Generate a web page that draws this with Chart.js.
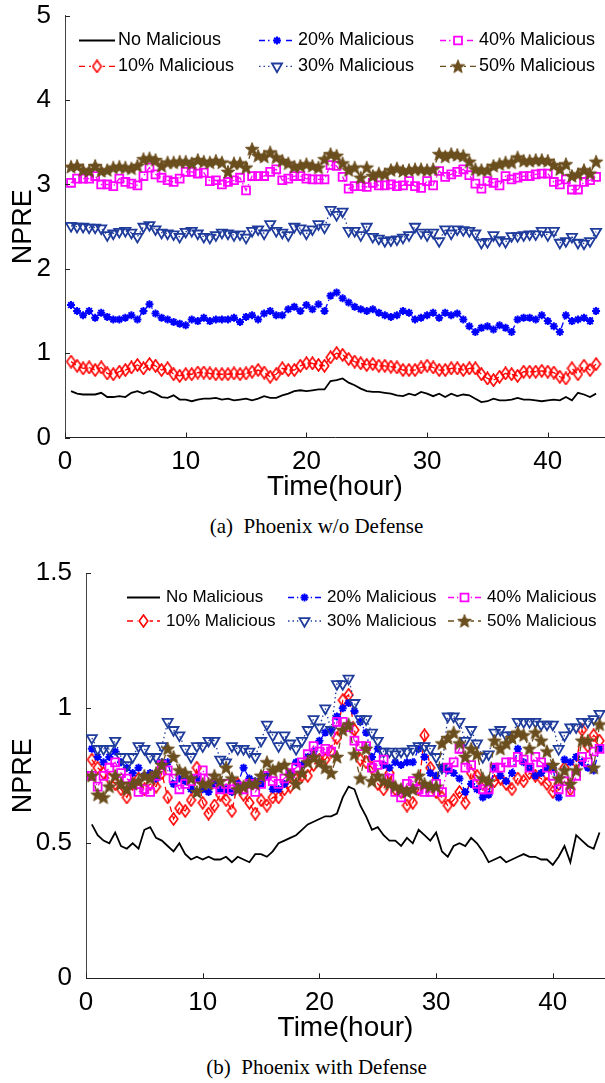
<!DOCTYPE html>
<html lang="en">
<head>
<meta charset="UTF-8">
<title>NPRE over time - Phoenix</title>
<script src="https://cdn.jsdelivr.net/npm/chart.js"></script>
<style>
  html, body { margin: 0; padding: 0; background: #fff; width: 605px; height: 1083px; overflow: hidden; }
  canvas { position: absolute; left: 0; }
  #topChart { top: 0; }
  #botChart { top: 545px; }
  .caption { position: absolute; left: 14px; width: 605px; text-align: center;
             font-family: "Liberation Serif", "DejaVu Serif", serif; font-size: 21px; color: #000; }
</style>
</head>
<body>
<canvas id="topChart" width="605" height="504"></canvas>
<div class="caption" style="top:514px;">(a)&nbsp; Phoenix w/o Defense</div>
<canvas id="botChart" width="605" height="500"></canvas>
<div class="caption" style="top:1055px;">(b)&nbsp; Phoenix with Defense</div>

<script>
  // time axis (hours), one sample every half hour
  const hours = [
    0.5,1,1.5,2,2.5,3,3.5,4,4.5,5,
    5.5,6,6.5,7,7.5,8,8.5,9,9.5,10,
    10.5,11,11.5,12,12.5,13,13.5,14,14.5,15,
    15.5,16,16.5,17,17.5,18,18.5,19,19.5,20,
    20.5,21,21.5,22,22.5,23,23.5,24,24.5,25,
    25.5,26,26.5,27,27.5,28,28.5,29,29.5,30,
    30.5,31,31.5,32,32.5,33,33.5,34,34.5,35,
    35.5,36,36.5,37,37.5,38,38.5,39,39.5,40,
    40.5,41,41.5,42,42.5,43,43.5,44
  ];
  const seriesLabels = ['No Malicious', '10% Malicious', '20% Malicious', '30% Malicious', '40% Malicious', '50% Malicious'];
  const xTicks = [0, 10, 20, 30, 40];
  const topYTicks = [0, 1, 2, 3, 4, 5];
  const botYTicks = [0, 0.5, 1, 1.5];

  // (a) Phoenix w/o Defense
  const topNone = [
    0.55,0.52,0.51,0.51,0.51,0.53,0.48,0.48,0.49,0.48,
    0.53,0.55,0.52,0.55,0.52,0.48,0.47,0.50,0.45,0.45,
    0.43,0.45,0.46,0.46,0.47,0.45,0.46,0.44,0.45,0.46,
    0.44,0.46,0.49,0.47,0.47,0.50,0.52,0.55,0.56,0.55,
    0.56,0.57,0.57,0.67,0.68,0.70,0.65,0.62,0.58,0.55,
    0.54,0.54,0.53,0.52,0.50,0.49,0.52,0.50,0.54,0.52,
    0.49,0.52,0.48,0.52,0.49,0.51,0.50,0.46,0.42,0.43,
    0.46,0.44,0.44,0.45,0.47,0.45,0.45,0.44,0.43,0.44,
    0.45,0.44,0.48,0.44,0.53,0.51,0.48,0.52
  ];
  const top10 = [
    0.90,0.85,0.82,0.83,0.80,0.83,0.76,0.75,0.78,0.80,
    0.83,0.86,0.82,0.87,0.85,0.80,0.82,0.75,0.73,0.75,
    0.75,0.77,0.77,0.76,0.75,0.75,0.75,0.76,0.75,0.76,
    0.78,0.80,0.77,0.72,0.75,0.82,0.80,0.80,0.85,0.88,
    0.88,0.86,0.85,0.95,1.00,0.98,0.93,0.90,0.88,0.86,
    0.87,0.85,0.85,0.84,0.83,0.80,0.80,0.80,0.83,0.85,
    0.83,0.80,0.80,0.82,0.82,0.80,0.82,0.82,0.75,0.70,
    0.68,0.72,0.76,0.75,0.73,0.78,0.78,0.78,0.79,0.78,
    0.77,0.72,0.70,0.82,0.75,0.85,0.80,0.87
  ];
  const top20 = [
    1.57,1.50,1.45,1.50,1.42,1.48,1.43,1.40,1.40,1.42,
    1.45,1.40,1.50,1.58,1.47,1.42,1.40,1.37,1.35,1.33,
    1.40,1.38,1.42,1.38,1.40,1.40,1.40,1.42,1.37,1.43,
    1.45,1.40,1.47,1.50,1.45,1.45,1.52,1.55,1.50,1.57,
    1.52,1.58,1.50,1.68,1.72,1.65,1.60,1.55,1.52,1.50,
    1.52,1.48,1.45,1.43,1.45,1.50,1.48,1.40,1.42,1.45,
    1.48,1.42,1.48,1.45,1.47,1.40,1.32,1.25,1.30,1.32,
    1.28,1.33,1.30,1.25,1.40,1.42,1.42,1.40,1.45,1.38,
    1.32,1.25,1.45,1.38,1.40,1.42,1.38,1.50
  ];
  const top30 = [
    2.51,2.50,2.50,2.49,2.49,2.48,2.40,2.42,2.44,2.45,
    2.43,2.38,2.50,2.52,2.47,2.43,2.42,2.41,2.38,2.44,
    2.45,2.42,2.38,2.37,2.40,2.43,2.42,2.40,2.41,2.37,
    2.45,2.47,2.42,2.53,2.45,2.43,2.40,2.50,2.48,2.42,
    2.47,2.53,2.49,2.70,2.64,2.68,2.45,2.45,2.40,2.50,
    2.38,2.36,2.33,2.34,2.35,2.37,2.40,2.50,2.43,2.40,
    2.43,2.33,2.47,2.42,2.47,2.46,2.45,2.42,2.31,2.32,
    2.40,2.34,2.32,2.39,2.39,2.40,2.41,2.41,2.45,2.40,
    2.45,2.31,2.33,2.38,2.31,2.30,2.33,2.44
  ];
  const top40 = [
    3.02,3.07,3.07,3.07,3.10,3.00,3.00,2.98,3.07,3.03,
    3.01,2.99,3.10,3.20,3.12,3.08,3.05,3.03,3.07,3.15,
    3.15,3.13,3.14,3.04,3.05,3.00,3.03,3.05,3.08,2.93,
    3.10,3.10,3.10,3.15,3.18,3.05,3.07,3.10,3.10,3.07,
    3.06,3.06,3.06,3.23,3.22,3.09,2.95,2.98,2.98,2.97,
    3.02,2.99,2.99,3.00,2.98,2.99,3.04,2.98,2.96,3.04,
    2.99,3.16,3.09,3.12,3.15,3.18,3.11,3.01,2.95,3.04,
    3.02,2.99,3.10,3.06,3.08,3.10,3.10,3.12,3.13,3.13,
    3.03,3.00,3.06,2.94,2.94,3.03,3.05,3.09
  ];
  const top50 = [
    3.21,3.22,3.17,3.16,3.22,3.16,3.17,3.20,3.21,3.20,
    3.19,3.22,3.30,3.31,3.29,3.22,3.26,3.26,3.27,3.27,
    3.25,3.29,3.27,3.26,3.28,3.26,3.15,3.25,3.25,3.20,
    3.42,3.34,3.33,3.38,3.32,3.28,3.25,3.21,3.22,3.24,
    3.22,3.20,3.30,3.36,3.34,3.25,3.17,3.20,3.08,3.20,
    3.10,3.13,3.12,3.17,3.19,3.16,3.17,3.18,3.18,3.17,
    3.18,3.36,3.33,3.36,3.35,3.34,3.27,3.18,3.17,3.17,
    3.22,3.24,3.26,3.26,3.32,3.28,3.28,3.29,3.29,3.28,
    3.23,3.18,3.24,3.10,3.12,3.17,3.13,3.27
  ];

  // (b) Phoenix with Defense
  const botNone = [
    0.57,0.53,0.51,0.50,0.54,0.49,0.48,0.50,0.48,0.55,
    0.56,0.52,0.51,0.49,0.47,0.50,0.46,0.44,0.45,0.44,
    0.45,0.44,0.44,0.45,0.43,0.45,0.44,0.43,0.46,0.46,
    0.45,0.47,0.50,0.51,0.52,0.53,0.55,0.57,0.58,0.59,
    0.60,0.60,0.61,0.67,0.71,0.70,0.64,0.60,0.55,0.56,
    0.53,0.51,0.51,0.49,0.52,0.50,0.55,0.53,0.51,0.54,
    0.47,0.45,0.49,0.50,0.49,0.52,0.50,0.47,0.43,0.44,
    0.45,0.43,0.44,0.45,0.46,0.45,0.45,0.44,0.44,0.42,
    0.45,0.49,0.43,0.53,0.51,0.49,0.48,0.54
  ];
  const bot10 = [
    0.81,0.78,0.76,0.74,0.72,0.70,0.67,0.72,0.74,0.70,
    0.72,0.71,0.76,0.67,0.59,0.63,0.62,0.66,0.78,0.65,
    0.61,0.64,0.68,0.66,0.62,0.72,0.68,0.65,0.61,0.66,
    0.64,0.67,0.67,0.70,0.71,0.74,0.75,0.75,0.79,0.81,
    0.81,0.84,0.89,1.03,1.05,0.92,0.81,0.80,0.78,0.72,
    0.70,0.76,0.70,0.69,0.64,0.65,0.70,0.90,0.78,0.69,
    0.67,0.64,0.66,0.69,0.65,0.76,0.75,0.72,0.70,0.73,
    0.74,0.72,0.70,0.74,0.73,0.76,0.75,0.74,0.72,0.69,
    0.72,0.78,0.70,0.80,0.92,0.86,0.90,0.88
  ];
  const bot20 = [
    0.85,0.82,0.80,0.82,0.84,0.80,0.78,0.76,0.78,0.75,
    0.76,0.74,0.80,0.80,0.72,0.74,0.73,0.70,0.74,0.70,
    0.69,0.72,0.70,0.70,0.69,0.72,0.78,0.74,0.73,0.72,
    0.75,0.70,0.70,0.72,0.76,0.80,0.79,0.82,0.84,0.88,
    0.91,0.92,0.97,1.00,1.02,0.99,0.95,0.91,0.82,0.85,
    0.79,0.78,0.80,0.79,0.80,0.80,0.85,0.82,0.76,0.75,
    0.78,0.77,0.76,0.74,0.69,0.72,0.70,0.67,0.68,0.78,
    0.75,0.73,0.76,0.85,0.80,0.78,0.75,0.76,0.78,0.78,
    0.67,0.81,0.80,0.82,0.80,0.78,0.77,0.85
  ];
  const bot30 = [
    0.89,0.85,0.85,0.85,0.88,0.82,0.79,0.82,0.86,0.85,
    0.82,0.82,0.86,0.95,0.92,0.90,0.85,0.82,0.86,0.86,
    0.88,0.88,0.81,0.80,0.86,0.85,0.85,0.84,0.82,0.88,
    0.94,0.90,0.86,0.90,0.87,0.85,0.88,0.92,0.96,0.93,
    1.00,0.92,1.09,1.09,1.11,1.02,0.96,0.96,0.91,0.88,
    0.84,0.84,0.83,0.84,0.84,0.85,0.86,0.86,0.85,0.82,
    0.78,0.97,0.97,0.95,0.88,0.92,0.87,0.82,0.83,0.91,
    0.92,0.90,0.90,0.95,0.95,0.95,0.95,0.94,0.94,0.94,
    0.85,0.90,0.93,0.93,0.95,0.95,0.96,0.98
  ];
  const bot40 = [
    0.75,0.71,0.75,0.78,0.80,0.76,0.74,0.72,0.69,0.70,
    0.69,0.75,0.79,0.77,0.74,0.70,0.72,0.73,0.74,0.77,
    0.74,0.72,0.70,0.72,0.70,0.71,0.70,0.72,0.69,0.72,
    0.75,0.73,0.72,0.74,0.76,0.78,0.80,0.83,0.86,0.84,
    0.85,0.84,0.95,0.95,0.93,0.88,0.86,0.86,0.78,0.79,
    0.81,0.74,0.69,0.67,0.72,0.73,0.70,0.69,0.69,0.72,
    0.69,0.78,0.80,0.85,0.78,0.79,0.72,0.70,0.70,0.78,
    0.78,0.80,0.80,0.82,0.81,0.78,0.82,0.80,0.78,0.75,
    0.70,0.73,0.69,0.75,0.82,0.80,0.84,0.85
  ];
  const bot50 = [
    0.75,0.68,0.67,0.71,0.75,0.72,0.70,0.72,0.73,0.75,
    0.74,0.76,0.79,0.85,0.82,0.77,0.76,0.74,0.69,0.72,
    0.72,0.75,0.73,0.78,0.74,0.70,0.71,0.72,0.72,0.75,
    0.80,0.77,0.78,0.79,0.75,0.72,0.76,0.80,0.82,0.80,
    0.78,0.76,0.82,0.92,0.94,0.83,0.74,0.85,0.73,0.75,
    0.73,0.72,0.71,0.70,0.69,0.70,0.75,0.72,0.71,0.71,
    0.87,0.89,0.91,0.87,0.82,0.85,0.83,0.74,0.73,0.88,
    0.85,0.87,0.89,0.91,0.90,0.85,0.91,0.88,0.84,0.79,
    0.74,0.77,0.72,0.77,0.88,0.88,0.78,0.94
  ];

  Chart.defaults.font.family = '"Liberation Sans", Arial, sans-serif';
  Chart.defaults.color = '#000';

  // hollow tall diamond (MATLAB 'd')
  function makeDiamond(color) {
    const c = document.createElement('canvas');
    c.width = 11; c.height = 14;
    const g = c.getContext('2d');
    g.strokeStyle = color; g.lineWidth = 1.6;
    g.beginPath();
    g.moveTo(5.5, 1); g.lineTo(9.8, 7); g.lineTo(5.5, 13); g.lineTo(1.2, 7);
    g.closePath(); g.stroke();
    return c;
  }
  // filled five-point star (MATLAB 'p')
  function makePentagram(color, R) {
    const s = Math.ceil(2 * R + 2);
    const c = document.createElement('canvas');
    c.width = s; c.height = s;
    const g = c.getContext('2d');
    g.fillStyle = color; g.strokeStyle = color; g.lineWidth = 1;
    g.beginPath();
    for (let k = 0; k < 10; k++) {
      const a = -Math.PI / 2 + k * Math.PI / 5;
      const r = k % 2 ? R * 0.42 : R;
      const px = s / 2 + r * Math.cos(a), py = s / 2 + 0.5 + r * Math.sin(a);
      k === 0 ? g.moveTo(px, py) : g.lineTo(px, py);
    }
    g.closePath(); g.fill(); g.stroke();
    return c;
  }

  const colors = ['#000000', '#ff0000', '#0000ff', '#1f3c9c', '#ff00ff', '#6b4e1e'];
  const dashes = [[], [6, 4], [6, 3, 1.5, 3], [1.5, 3], [6, 3, 1.5, 3], [6, 4]];
  const diamond = makeDiamond('#ff0000');
  const pentagram = makePentagram('#6b4e1e', 7);
  const marker = [
    { style: 'circle', radius: 0, width: 0, rot: 0 },
    { style: diamond, radius: 5, width: 1.6, rot: 0 },
    { style: 'star', radius: 4, width: 2, rot: 0 },
    { style: 'triangle', radius: 5.8, width: 1.8, rot: 180 },
    { style: 'rect', radius: 5.6, width: 1.8, rot: 0 },
    { style: pentagram, radius: 7, width: 1, rot: 0 }
  ];

  function buildDatasets(series) {
    return series.map((vals, i) => ({
      label: seriesLabels[i],
      data: hours.map((h, k) => ({ x: h, y: vals[k] })),
      borderColor: colors[i],
      borderWidth: i === 0 ? 1.8 : 1.3,
      borderDash: dashes[i],
      pointStyle: marker[i].style,
      pointRadius: marker[i].radius,
      pointBorderWidth: marker[i].width,
      pointRotation: marker[i].rot,
      pointBorderColor: colors[i],
      pointBackgroundColor: 'rgba(0,0,0,0)',
      tension: 0,
      fill: false,
      order: 5 - i
    }));
  }

  // MATLAB style ticks pointing into the plot
  const inwardTicks = {
    id: 'inwardTicks',
    afterDatasetsDraw(chart) {
      const { ctx, chartArea, scales } = chart;
      ctx.save();
      ctx.strokeStyle = '#222';
      ctx.lineWidth = 1;
      scales.x.ticks.forEach(t => {
        const px = Math.round(scales.x.getPixelForValue(t.value)) + 0.5;
        ctx.beginPath(); ctx.moveTo(px, chartArea.bottom); ctx.lineTo(px, chartArea.bottom - 5); ctx.stroke();
      });
      scales.y.ticks.forEach(t => {
        const py = Math.round(scales.y.getPixelForValue(t.value)) + 0.5;
        ctx.beginPath(); ctx.moveTo(chartArea.left, py); ctx.lineTo(chartArea.left + 5, py); ctx.stroke();
      });
      ctx.restore();
    }
  };

  // 3 column legend, filled column by column
  const matlabLegend = {
    id: 'matlabLegend',
    afterDraw(chart, args, opts) {
      const ctx = chart.ctx;
      ctx.save();
      ctx.font = opts.fontSize + 'px "Liberation Sans", Arial, sans-serif';
      ctx.textBaseline = 'middle';
      chart.data.datasets.forEach((ds, i) => {
        const x0 = opts.colX[Math.floor(i / 2)], y = opts.rowY[i % 2];
        const x1 = x0 + opts.lineLen;
        ctx.save();
        ctx.strokeStyle = ds.borderColor;
        ctx.lineWidth = ds.borderWidth;
        ctx.setLineDash(ds.borderDash);
        ctx.beginPath(); ctx.moveTo(x0, y); ctx.lineTo(x1, y); ctx.stroke();
        ctx.setLineDash([]);
        if (ds.pointRadius > 0) {
          ctx.fillStyle = '#fff';
          ctx.fillRect((x0 + x1) / 2 - 6, y - 7, 12, 14);
          ctx.strokeStyle = ds.pointBorderColor;
          ctx.fillStyle = 'rgba(0,0,0,0)';
          ctx.lineWidth = ds.pointBorderWidth;
          Chart.helpers.drawPoint(ctx, { pointStyle: ds.pointStyle, rotation: ds.pointRotation, radius: ds.pointRadius, borderWidth: ds.pointBorderWidth }, (x0 + x1) / 2, y);
        }
        ctx.restore();
        ctx.fillStyle = '#000';
        ctx.fillText(ds.label, x1 + opts.gap, y);
      });
      ctx.restore();
    }
  };

  function makeChart(id, series, cfg) {
    return new Chart(document.getElementById(id), {
      type: 'line',
      data: { datasets: buildDatasets(series) },
      plugins: [inwardTicks, matlabLegend],
      options: {
        responsive: false,
        animation: false,
        events: [],
        layout: { autoPadding: false, padding: { left: 0, right: 0, top: cfg.top, bottom: 0 } },
        plugins: {
          legend: { display: false },
          tooltip: { enabled: false },
          matlabLegend: cfg.legend
        },
        scales: {
          x: {
            type: 'linear', min: 0, max: cfg.xMax,
            afterBuildTicks: s => { s.ticks = xTicks.map(v => ({ value: v })); },
            afterFit: s => { s.height = cfg.xHeight; s.paddingLeft = 0; s.paddingRight = 0; },
            grid: { display: false },
            border: { display: true, color: '#222', width: 1 },
            ticks: { font: { size: 26 }, padding: 1, maxRotation: 0, callback: v => String(v) },
            title: { display: true, text: 'Time(hour)', font: { size: 28 }, padding: 0 }
          },
          y: {
            type: 'linear', min: 0, max: cfg.yMax,
            afterBuildTicks: s => { s.ticks = cfg.yTicks.map(v => ({ value: v })); },
            afterFit: s => { s.width = cfg.yWidth; s.paddingTop = 0; s.paddingBottom = 0; },
            grid: { display: false },
            border: { display: true, color: '#444', width: 1 },
            ticks: { font: { size: 26 }, padding: 6, callback: v => String(v) },
            title: { display: true, text: 'NPRE', font: { size: 27 }, padding: { top: 7, bottom: 0 } }
          }
        }
      }
    });
  }

  makeChart('topChart', [topNone, top10, top20, top30, top40, top50], {
    top: 15.8, xMax: 44.74, xHeight: 66.5, yMax: 5, yTicks: topYTicks, yWidth: 65,
    legend: { colX: [79, 259, 440], rowY: [40.5, 66.4], lineLen: 36, gap: 3, fontSize: 18 }
  });
  makeChart('botChart', [botNone, bot10, bot20, bot30, bot40, bot50], {
    top: 28.3, xMax: 44.47, xHeight: 66.7, yMax: 1.5, yTicks: botYTicks, yWidth: 86,
    legend: { colX: [127, 288, 448], rowY: [52.5, 76], lineLen: 33, gap: 6, fontSize: 17 }
  });
</script>
</body>
</html>
